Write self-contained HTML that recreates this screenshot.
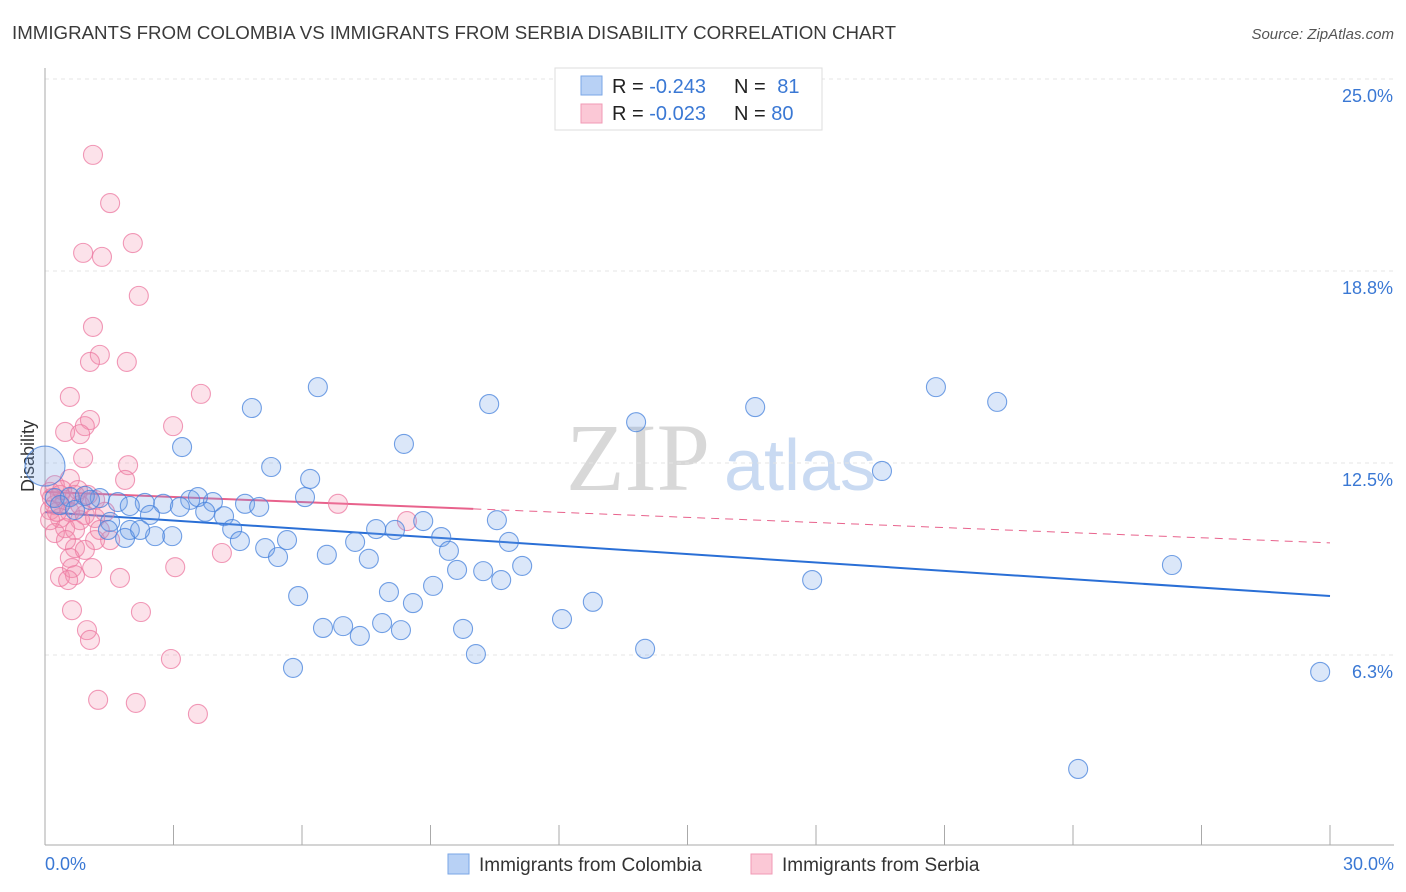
<!DOCTYPE html>
<html><head><meta charset="utf-8">
<style>
body{margin:0;background:#fff;font-family:"Liberation Sans",sans-serif;}
#wrap{position:relative;width:1406px;height:892px;overflow:hidden;}
</style></head>
<body>
<div id="wrap">
<svg id="chart" width="1406" height="892">
<text x="12" y="39" font-size="18" fill="#3a3a3a" textLength="884" lengthAdjust="spacingAndGlyphs">IMMIGRANTS FROM COLOMBIA VS IMMIGRANTS FROM SERBIA DISABILITY CORRELATION CHART</text>
<text x="1394" y="39" font-size="15" fill="#555" font-style="italic" text-anchor="end">Source: ZipAtlas.com</text>
<text x="34" y="456" font-size="18" fill="#333" text-anchor="middle" transform="rotate(-90 34 456)">Disability</text>
<g>
<text x="638" y="490" font-size="96" fill="#d8d8d8" font-family="Liberation Serif,serif" text-anchor="middle">ZIP</text>
<text x="800" y="490" font-size="72" fill="#c9daf2" text-anchor="middle">atlas</text>
</g>
<g id="grid"></g>
<g id="axes"></g>
<g id="trend"></g>
<g id="pts"></g>
<g>
<rect x="555" y="68" width="267" height="62" fill="#fff" stroke="#ddd"/>
<rect x="581" y="76" width="21" height="19" fill="#b8d1f5" stroke="#7aa6e6"/>
<rect x="581" y="104" width="21" height="19" fill="#fbc8d6" stroke="#f09ab5"/>
<text x="612" y="93" font-size="20" fill="#222">R = <tspan fill="#3a78d4">-0.243</tspan></text>
<text x="734" y="93" font-size="20" fill="#222">N = <tspan fill="#3a78d4" dx="6">81</tspan></text>
<text x="612" y="120" font-size="20" fill="#222">R = <tspan fill="#3a78d4">-0.023</tspan></text>
<text x="734" y="120" font-size="20" fill="#222">N = <tspan fill="#3a78d4">80</tspan></text>
</g>
<g>
<rect x="448" y="854" width="21" height="20" fill="#b8d1f5" stroke="#7aa6e6"/>
<text x="479" y="871" font-size="19" fill="#333">Immigrants from Colombia</text>
<rect x="751" y="854" width="21" height="20" fill="#fbc8d6" stroke="#f09ab5"/>
<text x="782" y="871" font-size="19" fill="#333">Immigrants from Serbia</text>
</g>
</svg>
</div>
<script>
const yTicks=[25.0,18.8,12.5,6.3];
const yTickVals=[25,18.75,12.5,6.25];
const xLabels=["0.0%","30.0%"];
const colX=[6.37,4.83,10.37,13.80,16.58,20.80,22.23,3.20,8.38,5.28,6.19,19.54,6.07,3.39,3.92,4.67,5.00,2.33,2.76,3.15,3.57,1.28,1.70,1.98,2.45,3.74,4.18,1.52,1.98,2.57,2.97,1.87,4.37,4.55,5.14,5.65,5.44,6.58,7.24,7.56,7.73,8.17,8.83,9.25,9.43,9.62,10.23,10.55,10.83,10.65,11.14,9.06,8.03,5.91,8.59,6.49,6.96,7.35,7.87,8.31,9.76,10.06,12.07,12.79,14.01,5.79,17.91,26.31,29.77,24.12,0.23,0.58,0.93,1.05,0.35,0.70,1.47,2.22,0];
const colY=[14.97,14.29,14.42,13.83,14.32,14.97,14.49,13.02,13.12,12.37,11.98,12.24,11.39,11.30,11.23,11.17,11.07,11.20,11.17,11.07,11.39,11.36,11.23,11.10,10.81,10.91,10.77,10.58,10.32,10.12,10.12,10.06,10.35,9.96,9.73,9.99,9.44,9.51,9.93,9.38,10.35,10.32,10.61,10.09,9.64,9.02,8.98,10.64,9.93,8.69,9.15,8.50,8.30,8.17,7.94,7.13,7.19,6.87,7.29,7.06,7.10,6.28,7.42,7.98,6.45,5.83,8.69,9.18,5.70,2.54,11.36,11.39,11.43,11.30,11.13,10.97,10.32,10.32,12.4];
const serX=[1.12,1.52,2.05,0.89,1.33,2.19,1.12,1.28,1.05,1.91,0.58,3.64,1.05,0.93,0.47,0.82,2.99,0.89,1.94,1.87,0.58,0.23,0.12,0.35,0.70,0.47,0.23,0.12,0.58,0.93,0.35,0.82,1.17,1.40,6.84,8.45,0.47,0.70,0.23,1.17,1.52,0.70,0.93,0.58,4.13,0.35,0.63,0.70,1.10,1.75,3.04,0.54,0.63,2.24,0.98,1.05,2.94,1.24,2.12,3.57,0.12,0.40,0.82,1.00,0.28,0.16,0.49,0.77,1.17,1.28];
const serY=[22.53,20.96,19.66,19.34,19.21,17.94,16.93,16.02,15.79,15.79,14.65,14.75,13.90,13.70,13.51,13.44,13.70,12.66,12.43,11.95,11.98,11.78,11.56,11.46,11.46,11.30,11.13,10.97,10.91,10.81,10.71,10.64,10.71,10.91,11.17,10.61,10.38,10.32,10.22,9.99,9.99,9.73,9.67,9.41,9.57,8.79,9.08,8.85,9.08,8.76,9.11,8.69,7.71,7.65,7.06,6.74,6.12,4.79,4.69,4.33,10.64,11.62,11.13,11.46,10.91,11.36,9.99,11.62,11.30,10.32];
const colTrend=[10.90,8.17];
const serTrend=[11.56,9.90];
const serSolidEnd=10;
const NS="http://www.w3.org/2000/svg";
const X=v=>45+v/30*1285;
const Y=v=>847-v*30.72;
function mk(tag,attrs,parent){const e=document.createElementNS(NS,tag);for(const k in attrs)e.setAttribute(k,attrs[k]);parent.appendChild(e);return e;}
const grid=document.getElementById('grid'),axes=document.getElementById('axes'),trend=document.getElementById('trend'),pts=document.getElementById('pts');
yTickVals.forEach((v,i)=>{
 const l=mk('line',{x1:45,x2:1394,y1:Y(v),y2:Y(v),stroke:'#e4e4e4','stroke-dasharray':'4,4'},grid);
 
 
 const t=mk('text',{x:1393,y:Y(v)+23,'font-size':18,fill:'#3a78d4','text-anchor':'end'},grid);
 t.textContent=yTicks[i].toFixed(1)+'%';
 
 
});
let a=mk('line',{x1:45,x2:45,y1:68,y2:845,stroke:'#aaa'},axes);


a=mk('line',{x1:45,x2:1394,y1:845,y2:845,stroke:'#aaa'},axes);


for(let i=0;i<=10;i++){
 const t=mk('line',{x1:X(i*3),x2:X(i*3),y1:825,y2:845,stroke:'#aaa'},axes);
 
 
}
[[0,'start',45],[30,'end',1394]].forEach((d,i)=>{
 const t=mk('text',{x:d[2],y:870,'font-size':18,fill:'#3a78d4','text-anchor':d[1]},axes);
 t.textContent=xLabels[i];
 
 
});
function dot(x,y,r,fill,stroke,name){
 const c=mk('circle',{cx:X(x),cy:Y(y),r:r,fill:fill,stroke:stroke,'stroke-width':1.1},pts);
 
 
}
serX.forEach((x,i)=>dot(x,serY[i],9.5,'rgba(244,140,170,0.25)','rgba(236,120,160,0.75)','serbia-point'));
colX.forEach((x,i)=>dot(x,colY[i],i===colX.length-1?20:9.5,'rgba(110,160,230,0.25)','rgba(70,130,220,0.75)','colombia-point'));
let tl=mk('line',{x1:X(0),y1:Y(colTrend[0]),x2:X(30),y2:Y(colTrend[1]),stroke:'#2a6fd6','stroke-width':2},trend);


const sy=v=>serTrend[0]+(serTrend[1]-serTrend[0])*v/30;
tl=mk('line',{x1:X(0),y1:Y(serTrend[0]),x2:X(serSolidEnd),y2:Y(sy(serSolidEnd)),stroke:'#e8628c','stroke-width':2},trend);


tl=mk('line',{x1:X(serSolidEnd),y1:Y(sy(serSolidEnd)),x2:X(30),y2:Y(serTrend[1]),stroke:'#e8628c','stroke-width':1,'stroke-dasharray':'8,6'},trend);


</script>
</body></html>
